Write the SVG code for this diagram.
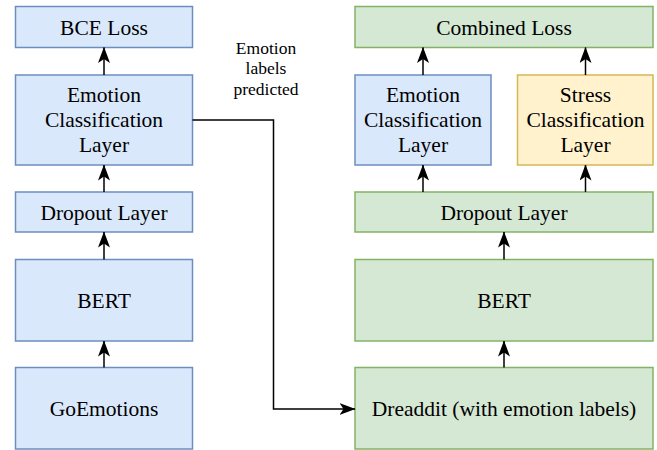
<svg xmlns="http://www.w3.org/2000/svg" width="657" height="450" viewBox="0 0 657 450" font-family="Liberation Serif, serif">
  <style>
    .blue { fill: #dae8fc; stroke: #6c8ebf; stroke-width: 1.5; }
    .green { fill: #d5e8d4; stroke: #82b366; stroke-width: 1.5; }
    .yellow { fill: #fff2cc; stroke: #d6b656; stroke-width: 1.5; }
    .t { font-size: 21.5px; fill: #000; text-anchor: middle; }
    .lbl { font-size: 17.5px; fill: #000; text-anchor: middle; }
    .edge { fill: none; stroke: #000; stroke-width: 1.5; marker-end: url(#arr); }
  </style>
  <defs>
    <marker id="arr" viewBox="0 0 16 12" refX="15.5" refY="6" markerWidth="16" markerHeight="12" markerUnits="userSpaceOnUse" orient="auto">
      <path d="M0,0 L16,6 L0,12 L4,6 Z" fill="#000"/>
    </marker>
  </defs>
  <rect width="657" height="450" fill="#fff"/>

  <g id="bce-loss">
    <rect class="blue" x="15.5" y="6.5" width="177" height="41"/>
    <text class="t" x="104" y="35" font-family="Liberation Serif">BCE Loss</text>
  </g>
  <g id="emotion-cls-left">
    <rect class="blue" x="15.5" y="75" width="177" height="90"/>
    <text class="t" x="104" y="101.5">Emotion</text>
    <text class="t" x="104" y="126.5">Classification</text>
    <text class="t" x="104" y="151.5">Layer</text>
  </g>
  <g id="dropout-left">
    <rect class="blue" x="15.5" y="192" width="177" height="40"/>
    <text class="t" x="104" y="219.5">Dropout Layer</text>
  </g>
  <g id="bert-left">
    <rect class="blue" x="15.5" y="259.5" width="177" height="81.5"/>
    <text class="t" x="104" y="308">BERT</text>
  </g>
  <g id="goemotions">
    <rect class="blue" x="15.5" y="367.5" width="177" height="81.5"/>
    <text class="t" x="104" y="416">GoEmotions</text>
  </g>

  <g id="combined-loss">
    <rect class="green" x="355" y="6.5" width="298" height="41"/>
    <text class="t" x="504" y="35">Combined Loss</text>
  </g>
  <g id="emotion-cls-right">
    <rect class="blue" x="355" y="75" width="136" height="90"/>
    <text class="t" x="423" y="101.5">Emotion</text>
    <text class="t" x="423" y="126.5">Classification</text>
    <text class="t" x="423" y="151.5">Layer</text>
  </g>
  <g id="stress-cls">
    <rect class="yellow" x="517.5" y="75" width="135.5" height="90"/>
    <text class="t" x="585.5" y="101.5">Stress</text>
    <text class="t" x="585.5" y="126.5">Classification</text>
    <text class="t" x="585.5" y="151.5">Layer</text>
  </g>
  <g id="dropout-right">
    <rect class="green" x="355" y="192" width="298" height="40"/>
    <text class="t" x="504" y="219.5">Dropout Layer</text>
  </g>
  <g id="bert-right">
    <rect class="green" x="355" y="259.5" width="298" height="81.5"/>
    <text class="t" x="504" y="308">BERT</text>
  </g>
  <g id="dreaddit">
    <rect class="green" x="355" y="367.5" width="298" height="81.5"/>
    <text class="t" x="504" y="416">Dreaddit (with emotion labels)</text>
  </g>

  <g id="connectors">
    <path class="edge" d="M104,367.5 V341"/>
    <path class="edge" d="M104,259.5 V232"/>
    <path class="edge" d="M104,192 V165"/>
    <path class="edge" d="M104,75 V47.5"/>
    <path class="edge" d="M504,367.5 V341"/>
    <path class="edge" d="M504,259.5 V232"/>
    <path class="edge" d="M423,192 V165"/>
    <path class="edge" d="M585.5,192 V165"/>
    <path class="edge" d="M423,75 V47.5"/>
    <path class="edge" d="M585.5,75 V47.5"/>
    <path class="edge" d="M192.5,120 H273.5 V409 H355"/>
    <text class="lbl" x="266" y="53.5">Emotion</text>
    <text class="lbl" x="266" y="74">labels</text>
    <text class="lbl" x="266" y="94.5">predicted</text>
  </g>
</svg>
